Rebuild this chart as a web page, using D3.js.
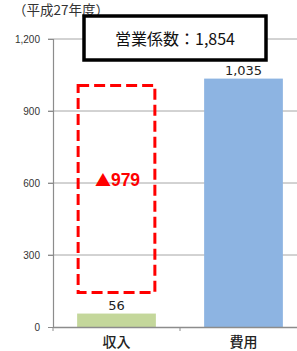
<!DOCTYPE html>
<html>
<head>
<meta charset="utf-8">
<script src="https://cdn.jsdelivr.net/npm/d3@7"></script>
<style>
  body { margin: 0; background: #fff; }
  svg { display: block; font-family: "Noto Sans CJK JP", "Liberation Sans", sans-serif; }
</style>
</head>
<body>
<svg id="chart" width="297" height="351"></svg>
<script>
// data
const categories = ["収入", "費用"];
const values = [56, 1035];
const barColors = ["#c4d79b", "#8db4e2"];
const valueLabels = ["56", "1,035"];
const yTicks = [0, 300, 600, 900, 1200];
const deficit = 979;
const titleText = "（平成27年度）";
const ratioText = "営業係数：1,854";

const svg = d3.select("#chart");
const plotLeft = 53, plotRight = 307, plotTop = 39, plotBottom = 327;

const x = d3.scaleBand().domain(categories).range([plotLeft, plotRight]).paddingInner(0).paddingOuter(0);
const y = d3.scaleLinear().domain([0, 1200]).range([plotBottom, plotTop]);
const barW = x.bandwidth() * 0.62;

// gridlines
svg.append("g").selectAll("line")
  .data(yTicks.filter(d => d > 0)).join("line")
  .attr("x1", plotLeft - 5).attr("x2", 297)
  .attr("y1", d => y(d)).attr("y2", d => y(d))
  .attr("stroke", "#a6a6a6").attr("stroke-width", 1);

// y axis
const yAxis = svg.append("g")
  .attr("transform", `translate(${plotLeft},0)`)
  .call(d3.axisLeft(y).tickValues(yTicks).tickSize(5).tickFormat(d3.format(",")));
yAxis.select(".domain").attr("stroke", "#8c8c8c").attr("stroke-width", 1.2);
yAxis.selectAll(".tick line").attr("stroke", "#8c8c8c");
yAxis.selectAll("text").attr("x", -13).attr("font-size", "10px")
  .attr("font-family", "Liberation Sans, Arial, sans-serif").attr("fill", "#333");

// bars
svg.append("g").selectAll("rect")
  .data(values).join("rect")
  .attr("x", (d, i) => x(categories[i]) + (x.bandwidth() - barW) / 2)
  .attr("width", barW)
  .attr("y", d => y(d))
  .attr("height", d => y(0) - y(d))
  .attr("fill", (d, i) => barColors[i]);

// x axis
const xAxis = svg.append("g")
  .attr("transform", `translate(0,${plotBottom})`)
  .call(d3.axisBottom(x).tickSize(0).tickFormat(""));
xAxis.select(".domain").attr("stroke", "#8c8c8c").attr("stroke-width", 1.5);
svg.append("line")
  .attr("x1", x(categories[1])).attr("x2", x(categories[1]))
  .attr("y1", plotBottom).attr("y2", plotBottom + 4)
  .attr("stroke", "#8c8c8c");
svg.append("line")
  .attr("x1", plotLeft).attr("x2", plotLeft)
  .attr("y1", plotBottom).attr("y2", plotBottom + 4)
  .attr("stroke", "#8c8c8c");

// category labels
svg.append("g").selectAll("text")
  .data(categories).join("text")
  .attr("x", d => x(d) + x.bandwidth() / 2)
  .attr("y", 347)
  .attr("text-anchor", "middle")
  .attr("font-size", "14px")
  .attr("font-weight", "500")
  .attr("fill", "#222")
  .text(d => d);

// value labels
svg.append("g").selectAll("text")
  .data(values).join("text")
  .attr("x", (d, i) => x(categories[i]) + x.bandwidth() / 2)
  .attr("y", d => y(d) - 4)
  .attr("text-anchor", "middle")
  .attr("font-size", "13px")
  .attr("font-family", "DejaVu Sans, sans-serif")
  .attr("fill", "#222")
  .text((d, i) => valueLabels[i]);

// deficit box
const bx = x(categories[0]) + (x.bandwidth() - barW) / 2;
const boxTop = y(values[1]) + 7;
const boxBottom = y(values[0]) - 21;
svg.append("rect")
  .attr("x", bx + 1).attr("y", boxTop)
  .attr("width", barW - 2).attr("height", boxBottom - boxTop)
  .attr("fill", "none")
  .attr("stroke", "#ff0000").attr("stroke-width", 3)
  .attr("stroke-dasharray", "11,5");

const defText = svg.append("text")
  .attr("x", bx + barW / 2 + 1)
  .attr("y", (boxTop + boxBottom) / 2 - 3)
  .attr("text-anchor", "middle")
  .attr("font-weight", "bold")
  .attr("fill", "#ff0000");
defText.append("tspan")
  .attr("font-family", "Noto Sans CJK JP, sans-serif")
  .attr("font-size", "16px")
  .text("▲");
defText.append("tspan")
  .attr("font-family", "Liberation Sans, Arial, sans-serif")
  .attr("font-size", "17.5px")
  .text(deficit);

// title
svg.append("text")
  .attr("x", 13).attr("y", 15)
  .attr("font-size", "13.5px")
  .attr("fill", "#333")
  .text(titleText);

// operating ratio box
svg.append("rect")
  .attr("x", 84).attr("y", 16)
  .attr("width", 182).attr("height", 44)
  .attr("fill", "#fff")
  .attr("stroke", "#000").attr("stroke-width", 3.5);
svg.append("text")
  .attr("x", 175).attr("y", 45)
  .attr("text-anchor", "middle")
  .attr("font-size", "16px")
  .attr("fill", "#111")
  .text(ratioText);
</script>
</body>
</html>
